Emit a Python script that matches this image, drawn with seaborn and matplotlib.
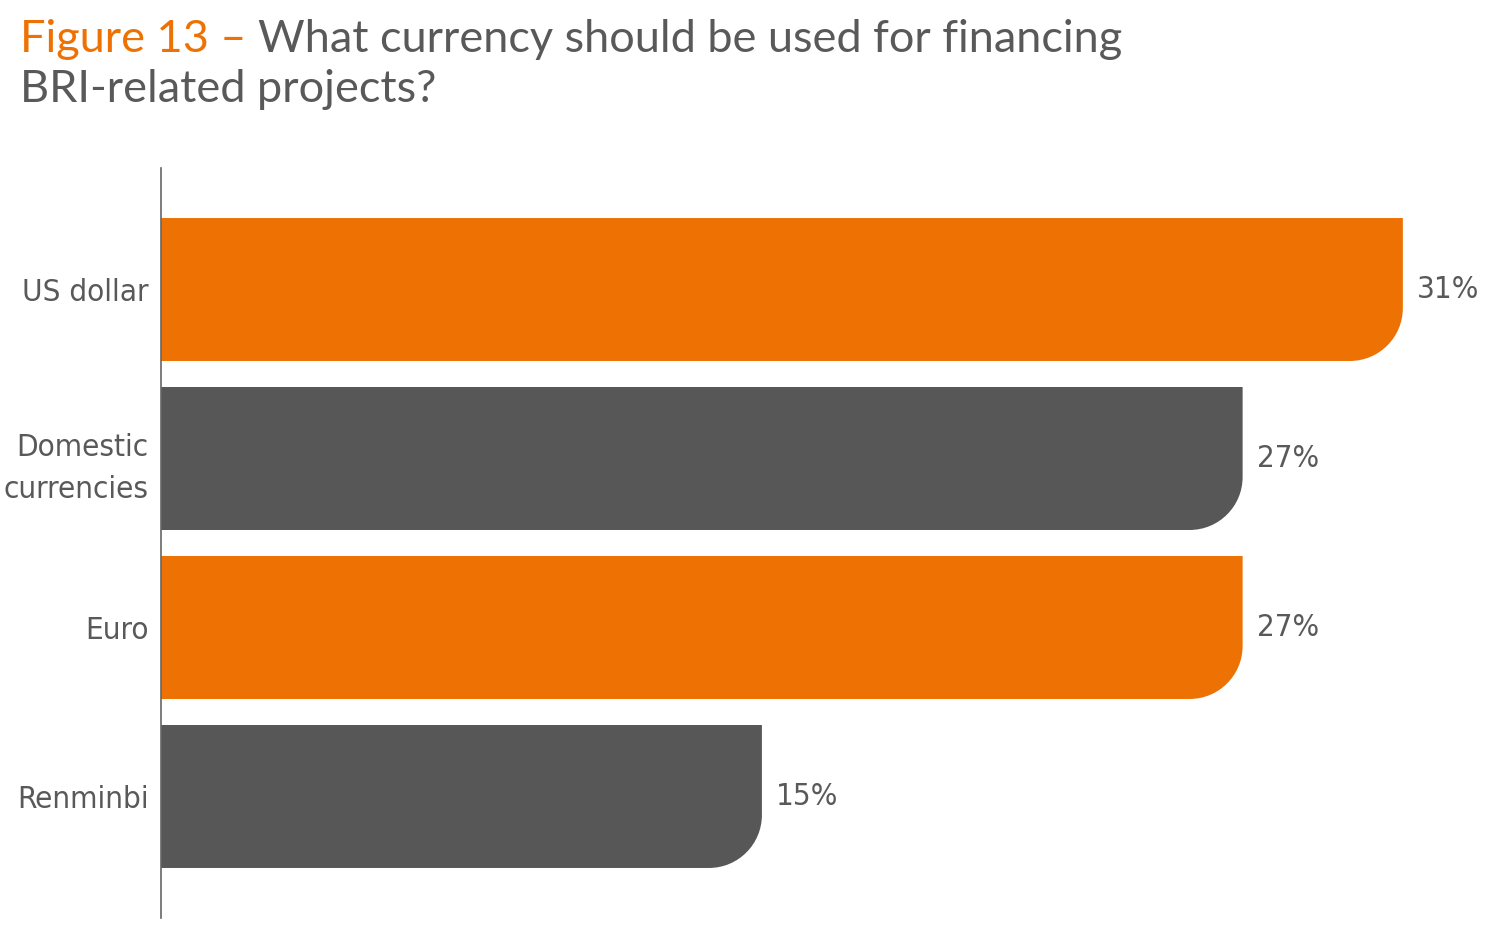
import matplotlib
matplotlib.use("Agg")
import matplotlib.pyplot as plt
from matplotlib import font_manager as fm
from matplotlib.path import Path
from matplotlib.patches import PathPatch
import seaborn as sns

# Data
categories = ["US dollar", "Domestic\ncurrencies", "Euro", "Renminbi"]
values = [31, 27, 27, 15]
bar_colors = ["#EE7203", "#575757", "#EE7203", "#575757"]

ORANGE = "#EE7203"
TEXT_GREY = "#595959"

# look for a narrow font for the labels
narrow = [f for f in fm.fontManager.ttflist
          if "condensed" in str(f.stretch).lower()
          or "Narrow" in f.name or "Condensed" in f.name]
if narrow:
    label_font = dict(family=narrow[0].name, stretch=narrow[0].stretch)
else:
    label_font = dict(family="DejaVu Sans", stretch="condensed")
label_size = 22.5

sns.set_style("white")

fig = plt.figure(figsize=(15, 9.39), dpi=100)
ax = fig.add_axes([161 / 1500, 1 - 918 / 939, 1339 / 1500, 750 / 939])

sns.barplot(x=values, y=categories, hue=categories, palette=bar_colors,
            orient="h", width=0.846, legend=False, ax=ax, saturation=1)

ax.set_xlim(0, 1339 / 40.06)
ax.set_ylim(3.719, -0.719)

# Replace the rectangles with bars rounded at the lower-right corner
rx = 53 / 40.06
ry = 53 / 169
k = 0.5523
for patch in list(ax.patches):
    x0, y0 = patch.get_x(), patch.get_y()
    w, h = patch.get_width(), patch.get_height()
    color = patch.get_facecolor()
    patch.remove()
    x1 = x0 + w
    ya, yb = y0, y0 + h  # yb is the lower edge on screen (y inverted)
    verts = [(x0, ya), (x1, ya), (x1, yb - ry),
             (x1, yb - ry + k * ry), (x1 - rx + k * rx, yb), (x1 - rx, yb),
             (x0, yb), (x0, ya)]
    codes = [Path.MOVETO, Path.LINETO, Path.LINETO,
             Path.CURVE4, Path.CURVE4, Path.CURVE4,
             Path.LINETO, Path.CLOSEPOLY]
    ax.add_patch(PathPatch(Path(verts, codes), facecolor=color,
                           edgecolor="none"))
    ax.text(x1 + 14 / 40.06, y0 + h / 2, f"{int(round(w))}%",
            va="center", ha="left", fontsize=label_size, color=TEXT_GREY,
            **label_font)

for side in ["top", "right", "bottom"]:
    ax.spines[side].set_visible(False)
ax.spines["left"].set_color("#666666")
ax.spines["left"].set_linewidth(1.2)
ax.set_xticks([])
ax.set_xlabel("")
ax.set_ylabel("")
ax.tick_params(axis="y", length=0, pad=9)
for lbl in ax.get_yticklabels():
    lbl.set_fontsize(label_size)
    lbl.set_color(TEXT_GREY)
    lbl.set_family(label_font["family"])
    lbl.set_stretch(label_font["stretch"])
    lbl.set_linespacing(1.6)

# Title
title_font = ["Lato", "DejaVu Sans"]
t1 = fig.text(20 / 1500, 1 - 52 / 939, "Figure 13 \u2013 ", color=ORANGE,
              fontsize=32.5, family=title_font, va="baseline", ha="left")
ax.annotate("What currency should be used for financing",
            xy=(1, 0), xycoords=t1, va="bottom", ha="left",
            color=TEXT_GREY, fontsize=32.5, family=title_font,
            annotation_clip=False)
fig.text(20 / 1500, 1 - 102 / 939, "BRI-related projects?", color=TEXT_GREY,
         fontsize=32.5, family=title_font, va="baseline", ha="left")

fig.savefig("out.png", dpi=100, facecolor="white")
